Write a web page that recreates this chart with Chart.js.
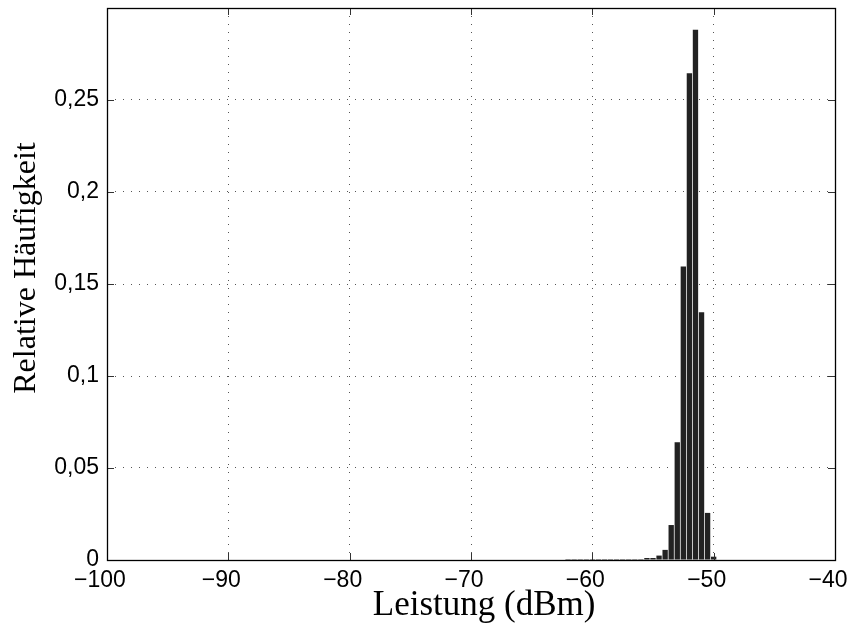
<!DOCTYPE html>
<html>
<head>
<meta charset="utf-8">
<script src="https://cdn.jsdelivr.net/npm/chart.js@4/dist/chart.umd.min.js"></script>
<style>
  html, body { margin: 0; padding: 0; background: #fff; }
  #wrap { width: 850px; height: 628px; }
</style>
</head>
<body>
<div id="wrap"><canvas id="c" width="850" height="628"></canvas></div>
<script>
// Bin centres (dBm) and relative frequencies
const binCenters = [-62, -61.5, -61, -60.5, -60, -59.5, -59, -58.5, -58, -57.5, -57, -56.5, -56,
                    -55.5, -55, -54.5, -54, -53.5, -53, -52.5, -52, -51.5, -51, -50.5, -50];
const relFreq    = [0.0005, 0.0005, 0.0005, 0.0005, 0.0005, 0.0005, 0.0005, 0.0005, 0.0005, 0.0005, 0.0005, 0.0005, 0.0005,
                    0.0011, 0.0011, 0.0024, 0.0055, 0.019, 0.064, 0.1595, 0.2645, 0.2882, 0.1347, 0.0256, 0.0018];
const xTickValues = [-100, -90, -80, -70, -60, -50, -40];
const yTickValues = [0, 0.05, 0.1, 0.15, 0.2, 0.25, 0.3];
const xTitle = '\u00A0\u00A0\u00A0Leistung (dBm)';
const yTitle = '\u00A0\u00A0\u00A0\u00A0Relative Häufigkeit';

const points = binCenters.map((x, i) => ({ x: x, y: relFreq[i] }));

const boxPlugin = {
  id: 'boxTicks',
  afterDatasetsDraw(chart) {
    const { ctx, chartArea: a, scales } = chart;
    ctx.save();
    const L = 7;
    ctx.strokeStyle = '#333';
    ctx.lineWidth = 1;
    ctx.beginPath();
    xTickValues.forEach(v => {
      const px = Math.round(scales.x.getPixelForValue(v)) + 0.5;
      ctx.moveTo(px, a.bottom); ctx.lineTo(px, a.bottom - L);
      ctx.moveTo(px, a.top); ctx.lineTo(px, a.top + L);
    });
    yTickValues.forEach(v => {
      const py = Math.round(scales.y.getPixelForValue(v)) + 0.5;
      ctx.moveTo(a.left, py); ctx.lineTo(a.left + L, py);
      ctx.moveTo(a.right, py); ctx.lineTo(a.right - L, py);
    });
    ctx.stroke();
    ctx.strokeStyle = '#000';
    ctx.lineWidth = 1.3;
    ctx.strokeRect(Math.round(a.left) + 0.5, Math.round(a.top) + 0.5,
                   Math.round(a.right - a.left), Math.round(a.bottom - a.top));
    ctx.restore();
  }
};

new Chart(document.getElementById('c'), {
  type: 'bar',
  data: {
    datasets: [{
      data: points,
      backgroundColor: '#222222',
      borderWidth: 0,
      barPercentage: 0.88,
      categoryPercentage: 1.0
    }]
  },
  options: {
    responsive: false,
    animation: false,
    devicePixelRatio: 1,
    layout: { padding: { left: 0, right: 15, top: 8, bottom: 0 } },
    plugins: { legend: { display: false }, tooltip: { enabled: false } },
    scales: {
      x: {
        type: 'linear',
        min: -100, max: -40,
        offset: false,
        afterFit(s) { s.height = 68; s.paddingLeft = 0; s.paddingRight = 0; },
        afterBuildTicks(s) { s.ticks = xTickValues.map(v => ({ value: v })); },
        grid: { offset: false, drawTicks: false, color: '#555', lineWidth: 1 },
        border: { display: false, dash: [1, 7] },
        ticks: {
          padding: 7,
          labelOffset: -7,
          maxRotation: 0,
          autoSkip: false,
          color: '#000',
          font: { family: '"Liberation Sans", Arial, sans-serif', size: 23 },
          callback: v => (v < 0 ? '\u2212' + Math.abs(v) : String(v))
        },
        title: {
          display: true, text: xTitle, color: '#000',
          font: { family: '"Liberation Serif", "Times New Roman", serif', size: 35 },
          padding: { top: 0, bottom: 1 }
        }
      },
      y: {
        type: 'linear',
        min: 0, max: 0.3,
        afterFit(s) { s.width = 107; s.paddingTop = 0; s.paddingBottom = 0; },
        afterBuildTicks(s) { s.ticks = yTickValues.map(v => ({ value: v })); },
        grid: { drawTicks: false, color: '#555', lineWidth: 1 },
        border: { display: false, dash: [1, 7] },
        ticks: {
          padding: 8,
          color: '#000',
          font: { family: '"Liberation Sans", Arial, sans-serif', size: 23 },
          callback: v => {
            if (Math.abs(v - 0.3) < 1e-9) return '';
            const r = Math.round(v * 100) / 100;
            return String(r).replace('.', ',');
          }
        },
        title: {
          display: true, text: yTitle, color: '#000',
          font: { family: '"Liberation Serif", "Times New Roman", serif', size: 32 },
          padding: { top: 7, bottom: 0 }
        }
      }
    }
  },
  plugins: [boxPlugin]
});
</script>
</body>
</html>
